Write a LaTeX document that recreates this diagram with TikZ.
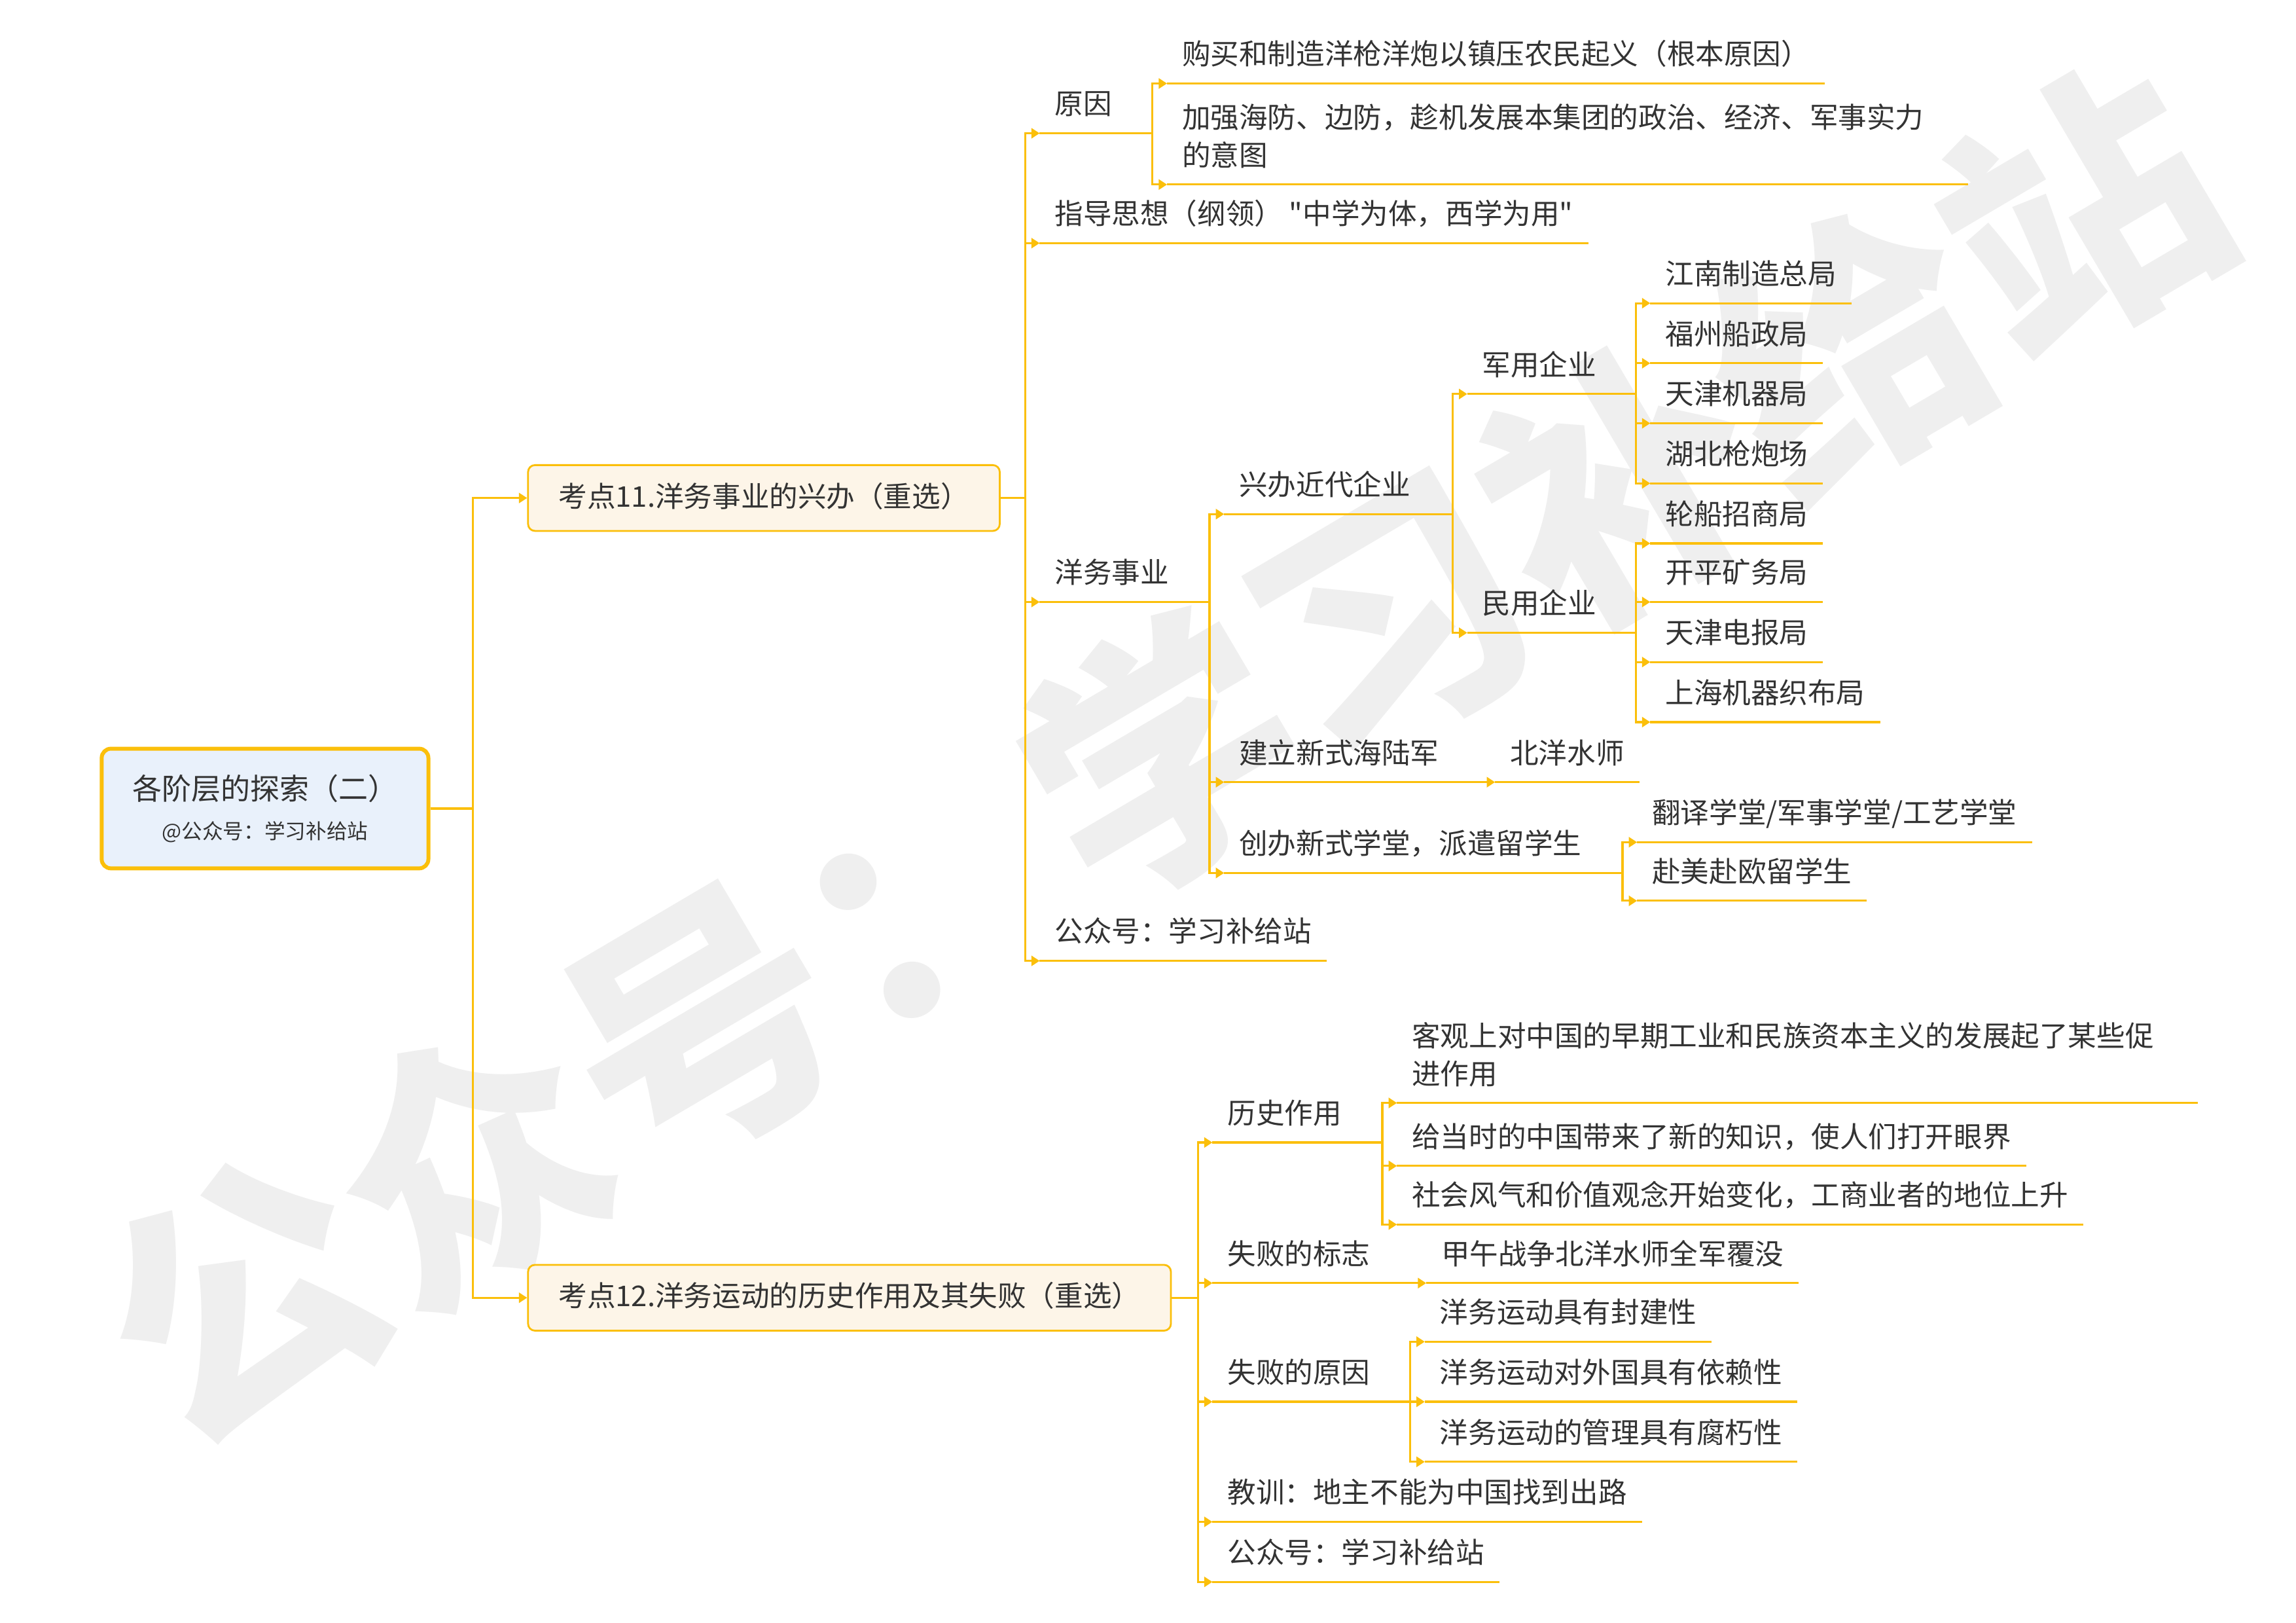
\documentclass[tikz,border=0pt]{standalone}
\usepackage{fontspec}
\setmainfont{Noto Sans CJK SC}[Ligatures=TeXOff]
\usetikzlibrary{arrows.meta, positioning}
\definecolor{mmyellow}{HTML}{FBBF0A}
\definecolor{rootblue}{HTML}{E9F1FB}
\definecolor{kdcream}{HTML}{FDF5E8}
\definecolor{txtgray}{HTML}{333333}
\definecolor{wmgray}{HTML}{EFEFEF}

\begin{document}
\begin{tikzpicture}[
    x=0.022372cm, y=-0.022372cm,
    root/.style={draw=mmyellow, line width=1.7pt, rounded corners=4pt, fill=rootblue, minimum width=142pt, minimum height=52pt, align=center, text=txtgray, font=\fontsize{12.8}{17}\selectfont},
    kaodian/.style={draw=mmyellow, line width=0.8pt, rounded corners=3pt, fill=kdcream, minimum height=28.6pt, inner xsep=13.3pt, anchor=west, text height=0.88em, text depth=0.12em, font=\fontsize{12.4}{16.5}\selectfont, text=txtgray},
    topic/.style={anchor=south west, inner xsep=6.35pt, inner ysep=3pt, align=left, font=\fontsize{12.4}{16.5}\selectfont, text=txtgray, execute at begin node=\strut, execute at end node=\strut},
    wrapped/.style={topic, text width=335pt},
    link/.style={draw=mmyellow, line width=0.9pt, -{Triangle[length=3.6pt, width=4.4pt]}},
    uline/.style={draw=mmyellow, line width=0.9pt},
]
\useasboundingbox (0,0) rectangle (1568,1108);
\fill[white] (0,0) rectangle (1568,1108);

% Watermark
\node[font=\fontsize{116}{116}\selectfont\bfseries, text=wmgray, rotate=30.5, text height=0.88em, text depth=0.12em, inner sep=0] (wm) at (825,570) {公众号：学习补给站};

% Root
\node[root] (root) at (181,552) {各阶层的探索（二）\\{\fontsize{9}{11}\selectfont @公众号：学习补给站}};

% 考点11
\node[kaodian] (k11) at (360,340) {考点11.洋务事业的兴办（重选）};
\node[topic] (yy) at (710,91) {原因};
\node[topic] (yy1) at (797,57) {购买和制造洋枪洋炮以镇压农民起义（根本原因）};
\node[wrapped] (yy2) at (797,126) {加强海防、边防，趁机发展本集团的政治、经济、军事实力\\的意图};
\node[topic] (zd) at (710,166) {指导思想（纲领） "中学为体，西学为用"};
\node[topic] (ys) at (710,411) {洋务事业};
\node[topic] (qy) at (836,351) {兴办近代企业};
\node[topic] (jy) at (1002,269) {军用企业};
\node[topic] (jy1) at (1127,207) {江南制造总局};
\node[topic] (jy2) at (1127,248) {福州船政局};
\node[topic] (jy3) at (1127,289) {天津机器局};
\node[topic] (jy4) at (1127,330) {湖北枪炮场};
\node[topic] (my) at (1002,432) {民用企业};
\node[topic] (my1) at (1127,371) {轮船招商局};
\node[topic] (my2) at (1127,411) {开平矿务局};
\node[topic] (my3) at (1127,452) {天津电报局};
\node[topic] (my4) at (1127,493) {上海机器织布局};
\node[topic] (jl) at (836,534) {建立新式海陆军};
\node[topic] (bysx) at (1021,534) {北洋水师};
\node[topic] (cb) at (836,596) {创办新式学堂，派遣留学生};
\node[topic] (xt) at (1118,575) {翻译学堂/军事学堂/工艺学堂};
\node[topic] (lx) at (1118,615) {赴美赴欧留学生};
\node[topic] (gz1) at (710,656) {公众号：学习补给站};

% 考点12
\node[kaodian] (k12) at (360,886) {考点12.洋务运动的历史作用及其失败（重选）};
\node[topic] (ls) at (828,780) {历史作用};
\node[wrapped] (ls1) at (954,753) {客观上对中国的早期工业和民族资本主义的发展起了某些促\\进作用};
\node[topic] (ls2) at (954,796) {给当时的中国带来了新的知识，使人们打开眼界};
\node[topic] (ls3) at (954,836) {社会风气和价值观念开始变化，工商业者的地位上升};
\node[topic] (sbbz) at (828,876) {失败的标志};
\node[topic] (jw) at (974,876) {甲午战争北洋水师全军覆没};
\node[topic] (sbyy) at (828,957) {失败的原因};
\node[topic] (fy1) at (973,916) {洋务运动具有封建性};
\node[topic] (fy2) at (973,957) {洋务运动对外国具有依赖性};
\node[topic] (fy3) at (973,998) {洋务运动的管理具有腐朽性};
\node[topic] (jx) at (828,1039) {教训：地主不能为中国找到出路};
\node[topic] (gz2) at (828,1080) {公众号：学习补给站};

% Underlines
\foreach \n in {yy, yy1, yy2, zd, ys, qy, jy, jy1, jy2, jy3, jy4, my, my1, my2, my3, my4, jl, bysx, cb, xt, lx, gz1,
                ls, ls1, ls2, ls3, sbbz, jw, sbyy, fy1, fy2, fy3, jx, gz2} {
    \draw[uline] (\n.south west) -- (\n.south east);
}

% Branches
\foreach \c in {k11, k12} {
    \draw[link] (root.east) -| ([xshift=-23.5pt]\c.west) -- (\c.west);
}
\foreach \c in {yy, zd, ys, gz1} {
    \draw[link] (k11.east) -| ([xshift=-6.35pt]\c.south west) -- (\c.south west);
}
\foreach \c in {ls, sbbz, sbyy, jx, gz2} {
    \draw[link] (k12.east) -| ([xshift=-6.35pt]\c.south west) -- (\c.south west);
}
\foreach \p/\c in {yy/yy1, yy/yy2, ys/qy, ys/jl, ys/cb, qy/jy, qy/my,
                   jy/jy1, jy/jy2, jy/jy3, jy/jy4, my/my1, my/my2, my/my3, my/my4,
                   jl/bysx, cb/xt, cb/lx,
                   ls/ls1, ls/ls2, ls/ls3, sbbz/jw, sbyy/fy1, sbyy/fy2, sbyy/fy3} {
    \draw[link] (\p.south east) -| ([xshift=-6.35pt]\c.south west) -- (\c.south west);
}

\end{tikzpicture}
\end{document}
